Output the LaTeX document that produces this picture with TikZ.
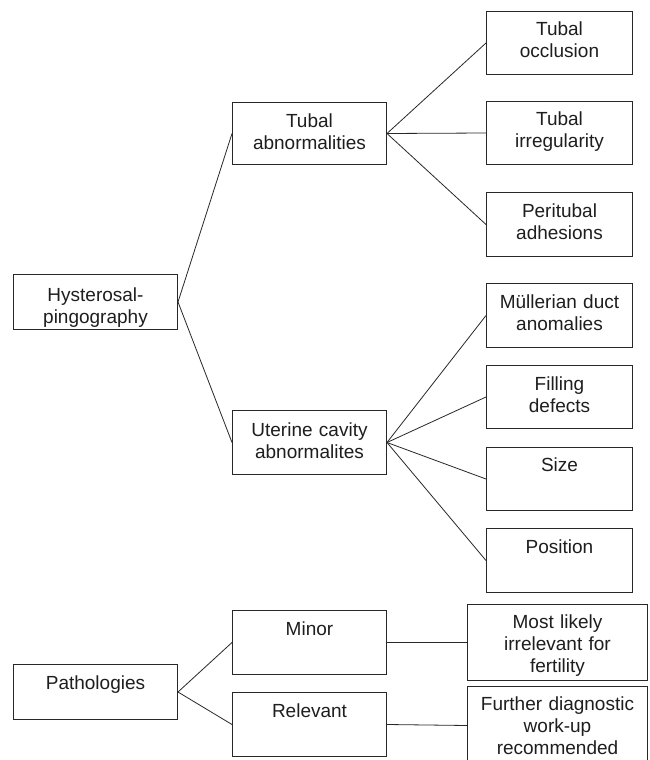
\documentclass[tikz,border=0pt]{standalone}
\usepackage{fontspec}
\setmainfont{Liberation Sans}
\definecolor{boxc}{RGB}{40,40,40}
\definecolor{txtc}{RGB}{30,30,30}
\begin{document}
\begin{tikzpicture}[x=1pt,y=-1pt,
  box/.style={draw=boxc, line width=1pt, inner xsep=0pt, inner ysep=0pt,
    anchor=north west, align=center, text=txtc,
    font=\fontsize{19}{22}\selectfont},
  wA/.style={text width=164pt},
  wB/.style={text width=154pt},
  wC/.style={text width=146pt},
  wD/.style={text width=180pt},
  link/.style={draw=boxc, line width=0.8pt}]
\path[use as bounding box, fill=white] (0,0) rectangle (649,760);

\node[box, wA, text height=27pt, text depth=28pt] (hyst) at (13,274) {Hysterosal-\\pingography};
\node[box, wB, text height=25pt, text depth=37pt] (tubab) at (232,102) {Tubal\\abnormalities};
\node[box, wB, text height=25.5pt, text depth=38.5pt] (uter) at (232,410) {Uterine cavity\\abnormalites};

\node[box, wC, text height=24pt, text depth=39pt] (occl) at (486,11) {Tubal\\occlusion};
\node[box, wC, text height=24pt, text depth=39pt] (irreg) at (486,101) {Tubal\\irregularity};
\node[box, wC, text height=25pt, text depth=39pt] (perit) at (486,192) {Peritubal\\adhesions};

\node[box, wC, text height=25pt, text depth=39pt] (mull) at (486,283) {Müllerian duct\\anomalies};
\node[box, wC, text height=25pt, text depth=38pt] (filld) at (486,365) {Filling\\defects};
\node[box, wC, text height=24pt, text depth=39pt] (size) at (486,447) {Size};
\node[box, wC, text height=25pt, text depth=39pt] (posit) at (486,528) {Position};

\node[box, wA, text height=25pt, text depth=30pt] (patho) at (13,664) {Pathologies};
\node[box, wB, text height=25pt, text depth=39pt] (minor) at (232,610) {Minor};
\node[box, wB, text height=24.5pt, text depth=39.5pt] (relev) at (232,692) {Relevant};
\node[box, wD, text height=23.5pt, text depth=52.5pt] (most) at (467,604) {Most likely\\irrelevant for\\fertility};
\node[box, wD, text height=23.5pt, text depth=54.5pt] (furth) at (467,686) {Further diagnostic\\work-up\\recommended};

\draw[link] (hyst.east) -- (tubab.west);
\draw[link] (hyst.east) -- (uter.west);
\draw[link] (tubab.east) -- (occl.west);
\draw[link] (tubab.east) -- (irreg.west);
\draw[link] (tubab.east) -- (perit.west);
\draw[link] (uter.east) -- (mull.west);
\draw[link] (uter.east) -- (filld.west);
\draw[link] (uter.east) -- (size.west);
\draw[link] (uter.east) -- (posit.west);
\draw[link] (patho.east) -- (minor.west);
\draw[link] (patho.east) -- (relev.west);
\draw[link] (minor.east) -- (most.west);
\draw[link] (relev.east) -- (furth.west);
\end{tikzpicture}
\end{document}
